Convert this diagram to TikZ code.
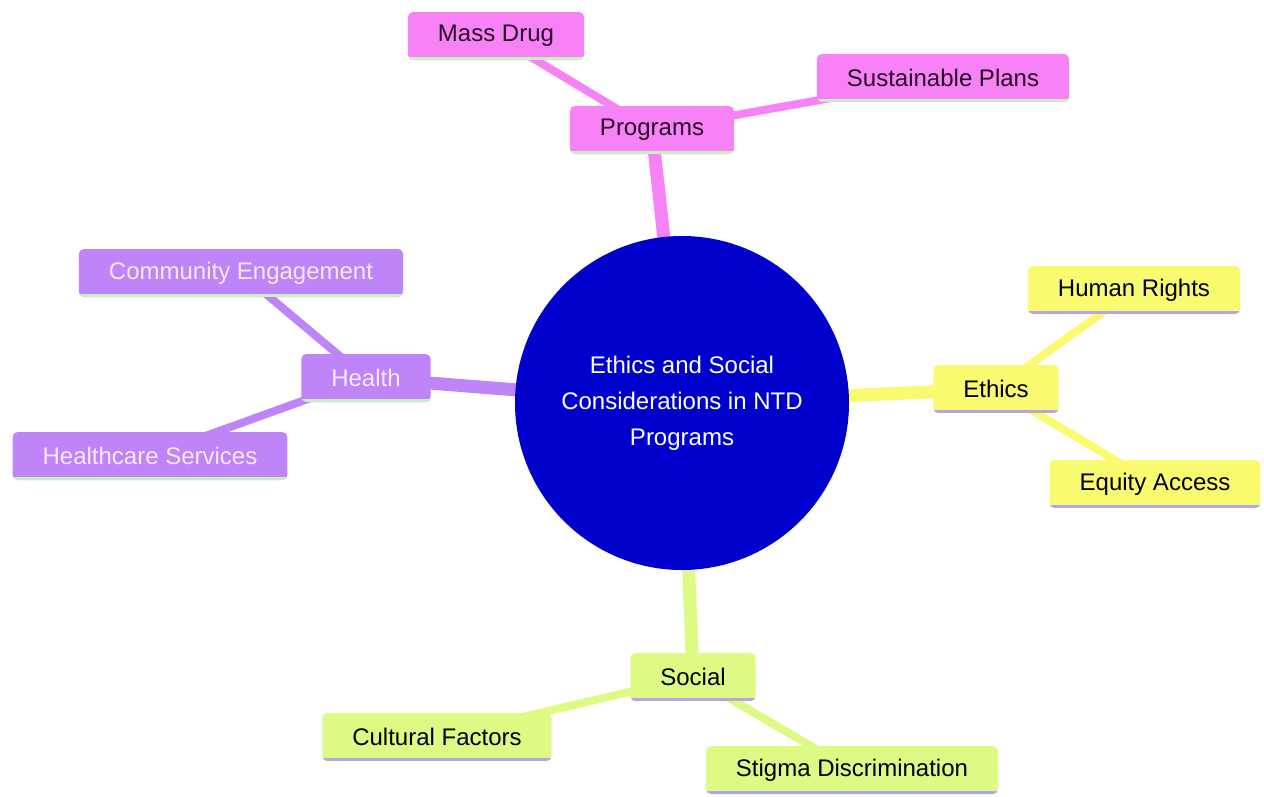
\documentclass[tikz,border=0pt]{standalone}
\usepackage{fontspec}
\setmainfont{Liberation Sans}
\usetikzlibrary{positioning, backgrounds}
\definecolor{ProgramsColor}{RGB}{246, 130, 246}
\definecolor{HealthColor}{RGB}{190, 132, 248}
\definecolor{EthicsColor}{RGB}{250, 250, 112}
\definecolor{SocialColor}{RGB}{221, 250, 132}
\definecolor{RootColor}{RGB}{0, 0, 205}
\definecolor{GreenLine}{RGB}{200, 240, 190}
\definecolor{PurpleLine}{RGB}{180, 165, 235}
\definecolor{DarkText}{RGB}{40, 10, 40}
\definecolor{LightText}{RGB}{248, 232, 248}

\begin{document}
\begin{tikzpicture}[
    x=1pt, y=-1pt,
    box/.style={
        rounded corners=5pt,
        minimum height=48pt,
        inner xsep=30pt,
        font=\fontsize{24}{28}\selectfont
    },
    uline/.style={
        path picture={\draw[line width=3pt, #1]
            ([yshift=1.5pt]path picture bounding box.south west) --
            ([yshift=1.5pt]path picture bounding box.south east);}
    },
    programs/.style={box, fill=ProgramsColor, text=DarkText, uline=GreenLine},
    health/.style={box, fill=HealthColor, text=LightText, uline=GreenLine},
    ethics/.style={box, fill=EthicsColor, text=black, uline=PurpleLine},
    social/.style={box, fill=SocialColor, text=black, uline=PurpleLine},
    root/.style={circle, fill=RootColor, text=white, minimum size=334pt,
        align=center, font=\fontsize{24}{36}\selectfont},
    trunk/.style={line width=13pt},
    twig/.style={line width=8pt}
]
\useasboundingbox (0,0) rectangle (1264,796);

% Root
\node[root] at (682, 403) (root) {Ethics and Social\\Considerations in NTD\\Programs};

% Programs branch
\node[programs] at (652, 130) (programs) {Programs};
\node[programs] at (496, 36) (mass_drug) {Mass Drug};
\node[programs] at (943, 78) (sustainable_plans) {Sustainable Plans};

% Ethics branch
\node[ethics] at (996, 389) (ethics) {Ethics};
\node[ethics] at (1134, 290) (human_rights) {Human Rights};
\node[ethics] at (1155, 484) (equity_access) {Equity Access};

% Health branch
\node[health] at (366, 378) (health) {Health};
\node[health] at (241, 273) (community_engagement) {Community Engagement};
\node[health] at (150, 456) (healthcare_services) {Healthcare Services};

% Social branch
\node[social] at (693, 677) (social) {Social};
\node[social] at (437, 737) (cultural_factors) {Cultural Factors};
\node[social] at (852, 770) (stigma_discrimination) {Stigma Discrimination};

% Connections, behind the boxes
\begin{scope}[on background layer]
\draw[trunk, ProgramsColor] (root.center) -- (programs.center);
\draw[twig, ProgramsColor] (programs.center) -- (mass_drug.center);
\draw[twig, ProgramsColor] (programs.center) -- (sustainable_plans.center);

\draw[trunk, EthicsColor] (root.center) -- (ethics.center);
\draw[twig, EthicsColor] (ethics.center) -- (human_rights.center);
\draw[twig, EthicsColor] (ethics.center) -- (equity_access.center);

\draw[trunk, HealthColor] (root.center) -- (health.center);
\draw[twig, HealthColor] (health.center) -- (community_engagement.center);
\draw[twig, HealthColor] (health.center) -- (healthcare_services.center);

\draw[trunk, SocialColor] (root.center) -- (social.center);
\draw[twig, SocialColor] (social.center) -- (cultural_factors.center);
\draw[twig, SocialColor] (social.center) -- (stigma_discrimination.center);
\end{scope}

\end{tikzpicture}
\end{document}
